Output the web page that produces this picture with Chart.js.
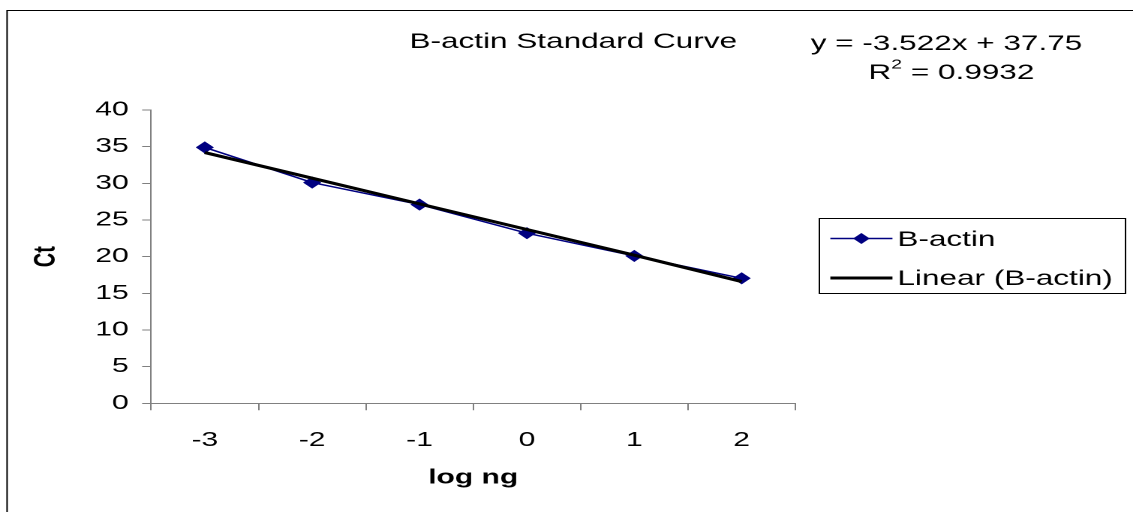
<!DOCTYPE html>
<html>
<head>
<meta charset="utf-8">
<script src="https://cdn.jsdelivr.net/npm/chart.js@4/dist/chart.umd.min.js"></script>
<style>
  html, body { margin: 0; padding: 0; background: #fff; overflow: hidden; }
  #wrap { position: absolute; left: 0; top: 0; width: 755px; height: 512px;
          transform: scaleX(1.50066); transform-origin: 0 0; }
</style>
</head>
<body>
<div id="wrap"><canvas id="c"></canvas></div>
<script>
// ---- data ----
const categories = ["-3", "-2", "-1", "0", "1", "2"];
const bActin = [34.9, 30.1, 27.1, 23.2, 20.1, 17.05];
const linearTrend = [34.2, 30.7, 27.2, 23.7, 20.2, 16.6];
const yTicks = [0, 5, 10, 15, 20, 25, 30, 35, 40];
const titleText = "B-actin Standard Curve";
const equationText = "y = -3.522x + 37.75";
const r2Value = "0.9932";

const FONT = '"Liberation Sans", Arial, sans-serif';
const GRAY = '#808080';

const decor = {
  id: 'decor',
  afterDraw(chart) {
    const ctx = chart.ctx;
    ctx.save();
    // outer border
    ctx.strokeStyle = '#000';
    ctx.lineWidth = 1;
    ctx.strokeRect(4.7, 10.5, 800, 600);
    // title
    ctx.fillStyle = '#000';
    ctx.textBaseline = 'middle';
    ctx.textAlign = 'center';
    ctx.font = '21px ' + FONT;
    ctx.fillText(titleText, 382, 42);
    // equation
    ctx.font = '21px ' + FONT;
    ctx.fillText(equationText, 630.7, 44);
    // R^2 line
    const big = '21px ' + FONT, small = '13px ' + FONT;
    ctx.font = big;
    const wR = ctx.measureText('R').width;
    const rest = ' = ' + r2Value;
    const wRest = ctx.measureText(rest).width;
    ctx.font = small;
    const w2 = ctx.measureText('2').width;
    const total = wR + w2 + wRest;
    let x0 = 634 - total / 2;
    ctx.textAlign = 'left';
    ctx.font = big;
    ctx.fillText('R', x0, 73);
    ctx.font = small;
    ctx.fillText('2', x0 + wR, 65);
    ctx.font = big;
    ctx.fillText(rest, x0 + wR + w2, 73);
    // legend
    ctx.strokeStyle = '#000';
    ctx.lineWidth = 1;
    ctx.strokeRect(546, 218.5, 204, 75);
    const ds = chart.data.datasets;
    // entry 1
    ctx.strokeStyle = ds[0].borderColor;
    ctx.lineWidth = 1.5;
    ctx.beginPath(); ctx.moveTo(553.3, 238.5); ctx.lineTo(594.7, 238.5); ctx.stroke();
    Chart.helpers.drawPoint(ctx, {pointStyle: 'rectRot', radius: 4.5, rotation: 0, borderWidth: 1}, 574, 238.5);
    ctx.fillStyle = ds[0].pointBackgroundColor;
    ctx.fill();
    // entry 2
    ctx.strokeStyle = ds[1].borderColor;
    ctx.lineWidth = 3;
    ctx.beginPath(); ctx.moveTo(553.3, 278); ctx.lineTo(594.7, 278); ctx.stroke();
    ctx.fillStyle = '#000';
    ctx.font = '21px ' + FONT;
    ctx.textBaseline = 'middle';
    ctx.fillText(ds[0].label, 598, 240);
    ctx.fillText(ds[1].label, 598, 279);
    ctx.restore();
  }
};

new Chart(document.getElementById('c'), {
  type: 'line',
  data: {
    labels: categories,
    datasets: [
      {
        label: 'B-actin',
        data: bActin,
        borderColor: '#000080',
        backgroundColor: '#000080',
        pointBackgroundColor: '#000080',
        pointBorderColor: '#000080',
        borderWidth: 1.5,
        pointStyle: 'rectRot',
        pointRadius: 5,
        tension: 0,
        order: 1
      },
      {
        label: 'Linear (B-actin)',
        data: linearTrend,
        borderColor: '#000000',
        backgroundColor: '#000000',
        borderWidth: 3,
        pointRadius: 0,
        tension: 0,
        order: 0
      }
    ]
  },
  options: {
    responsive: true,
    maintainAspectRatio: false,
    devicePixelRatio: 2,
    animation: false,
    layout: { padding: { left: 0, right: 225, top: 110, bottom: 0 } },
    plugins: {
      legend: { display: false },
      title: { display: false },
      tooltip: { enabled: false }
    },
    scales: {
      x: {
        type: 'category',
        offset: true,
        grid: { offset: true, drawOnChartArea: false, drawTicks: true, tickLength: 7, color: GRAY, lineWidth: 1 },
        border: { display: true, color: GRAY, width: 1 },
        ticks: { color: '#000', font: { family: FONT, size: 20 }, padding: 18, maxRotation: 0 },
        title: { display: true, text: 'log ng', color: '#000', font: { family: FONT, size: 20, weight: 'bold' }, padding: { top: 0, bottom: 22 } },
        afterFit(scale) { scale.height = 108.7; }
      },
      y: {
        min: 0, max: 40,
        afterBuildTicks(scale) { scale.ticks = yTicks.map(v => ({ value: v })); },
        grid: { drawOnChartArea: false, drawTicks: true, tickLength: 6, color: GRAY, lineWidth: 1 },
        border: { display: true, color: GRAY, width: 1 },
        ticks: { color: '#000', font: { family: FONT, size: 20 }, padding: 9 },
        title: { display: true, text: 'Ct', color: '#000', font: { family: FONT, size: 20, weight: 'bold' }, padding: { top: 19, bottom: 0 } },
        afterFit(scale) { scale.width = 100.7; }
      }
    }
  },
  plugins: [decor]
});
</script>
</body>
</html>
